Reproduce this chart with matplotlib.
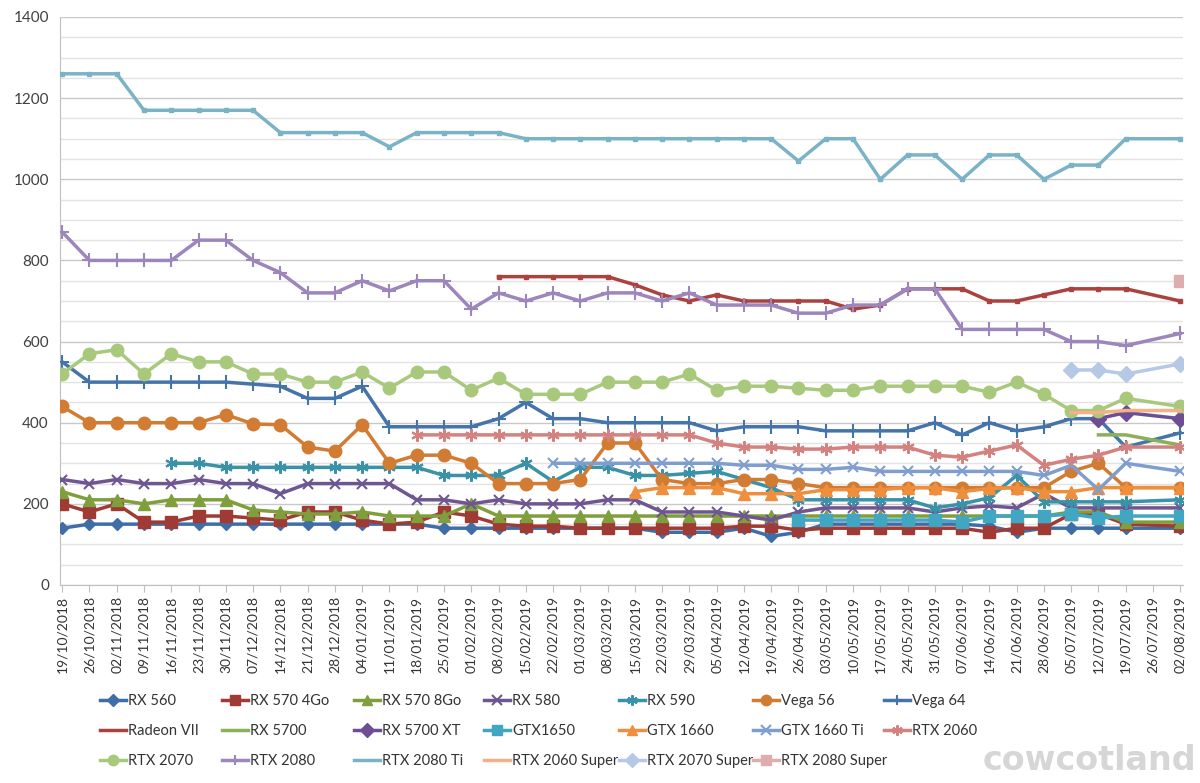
import numpy as np
import matplotlib
matplotlib.use("Agg")
import matplotlib.pyplot as plt
from matplotlib.lines import Line2D
from matplotlib import font_manager

N = None
dates = ["19/10/2018","26/10/2018","02/11/2018","09/11/2018","16/11/2018","23/11/2018","30/11/2018",
         "07/12/2018","14/12/2018","21/12/2018","28/12/2018","04/01/2019","11/01/2019","18/01/2019",
         "25/01/2019","01/02/2019","08/02/2019","15/02/2019","22/02/2019","01/03/2019","08/03/2019",
         "15/03/2019","22/03/2019","29/03/2019","05/04/2019","12/04/2019","19/04/2019","26/04/2019",
         "03/05/2019","10/05/2019","17/05/2019","24/05/2019","31/05/2019","07/06/2019","14/06/2019",
         "21/06/2019","28/06/2019","05/07/2019","12/07/2019","19/07/2019","26/07/2019","02/08/2019"]

def pad(start, vals):
    out = [N] * start + list(vals)
    return out + [N] * (42 - len(out))

rx560 = [140,150,150,150,150,150,150,150,150,150,
         150,150,150,150,140,140,140,140,140,140,
         140,140,130,130,130,140,120,130,150,150,
         150,150,150,150,145,130,140,140,140,140,
         N,140]
rx570_4 = [200,180,200,155,155,170,170,165,160,180,
           180,160,150,155,180,170,150,145,145,140,
           140,140,140,140,140,145,145,135,140,140,
           140,140,140,140,130,140,140,175,175,150,
           N,145]
rx570_8 = [230,210,210,200,210,210,210,185,180,175,
           175,180,170,170,170,200,170,170,170,170,
           170,170,170,170,170,170,170,170,170,170,
           170,170,170,170,170,170,170,180,180,155,
           N,155]
rx580 = [260,250,260,250,250,260,250,250,225,250,
         250,250,250,210,210,200,210,200,200,200,
         210,210,180,180,180,170,160,180,190,190,
         190,190,180,190,195,190,225,190,190,190,
         N,190]
rx590 = pad(4, [300,300,290,290,290,290,290,290,290,290,
                270,270,270,300,255,290,290,270,270,275,
                280,260,240,210,210,210,210,210,190,200,
                215,270,205,205,205,205,N,210])
vega56 = [440,400,400,400,400,400,420,397,395,340,
          330,395,300,320,320,300,250,250,250,260,
          350,350,260,250,250,260,260,250,240,240,
          240,240,240,240,240,240,240,280,300,240,
          N,240]
vega64 = [550,500,500,500,500,500,500,495,490,460,
          460,490,390,390,390,390,410,450,410,410,
          400,400,400,400,380,390,390,390,380,380,
          380,380,400,370,400,380,390,410,410,340,
          N,375]
radeon7 = pad(16, [760,760,760,760,760,740,715,700,715,700,
                   700,700,700,680,690,730,730,730,700,700,
                   715,730,730,730,N,700])
rx5700 = pad(38, [370,370,N,345])
rx5700xt = pad(38, [410,425,N,410])
gtx1650 = pad(27, [160,160,160,160,160,160,155,170,170,170,
                   175,165,170,N,170])
gtx1660 = pad(21, [230,240,240,240,225,225,225,235,235,235,
                   240,240,230,238,240,230,230,240,240,N,240])
gtx1660ti = pad(18, [300,300,300,300,300,300,300,295,295,285,
                     285,290,280,280,280,280,280,280,270,295,
                     235,300,N,280])
rtx2060 = pad(13, [370,370,370,370,370,370,370,370,370,370,
                   370,350,340,340,335,335,340,340,340,320,
                   315,330,345,295,310,320,340,N,340])
rtx2070 = [520,570,580,520,570,550,550,520,520,500,
           500,525,485,525,525,480,510,470,470,470,
           500,500,500,520,480,490,490,485,480,480,
           490,490,490,490,475,500,470,430,430,460,
           N,440]
rtx2080 = [870,800,800,800,800,850,850,800,770,720,
           720,750,725,750,750,680,720,700,720,700,
           720,720,700,720,690,690,690,670,670,690,
           690,730,730,630,630,630,630,600,600,590,
           N,620]
rtx2080ti = [1260,1260,1260,1170,1170,1170,1170,1170,1115,1115,
             1115,1115,1080,1115,1115,1115,1115,1100,1100,1100,
             1100,1100,1100,1100,1100,1100,1100,1045,1100,1100,
             1000,1060,1060,1000,1060,1060,1000,1035,1035,1100,
             N,1100]
rtx2060s = pad(37, [425,425,430,N,430])
rtx2070s = pad(37, [530,530,520,N,545])
rtx2080s = pad(41, [750])

ast = (6, 2, 0)
series = [
    ("RX 560", rx560, "#3F6EA7", "D", 6.5),
    ("RX 570 4Go", rx570_4, "#A03A35", "s", 8),
    ("RX 570 8Go", rx570_8, "#7F9E3C", "^", 8.5),
    ("RX 580", rx580, "#6E5690", "x", 7.5),
    ("RX 590", rx590, "#3A92A8", ast, 9),
    ("Vega 56", vega56, "#D27B32", "o", 9),
    ("Vega 64", vega64, "#4474AA", "+", 10),
    ("Radeon VII", radeon7, "#AA4340", "s", 3),
    ("RX 5700", rx5700, "#8DAF55", None, 0),
    ("RX 5700 XT", rx5700xt, "#6B4E93", "D", 8),
    ("GTX1650", gtx1650, "#40A6C2", "s", 8.5),
    ("GTX 1660", gtx1660, "#EF8F3E", "^", 8.5),
    ("GTX 1660 Ti", gtx1660ti, "#7F9ECF", "x", 7.5),
    ("RTX 2060", rtx2060, "#D3827F", ast, 9),
    ("RTX 2070", rtx2070, "#A8C97C", "o", 9),
    ("RTX 2080", rtx2080, "#9C86BC", "+", 10),
    ("RTX 2080 Ti", rtx2080ti, "#7BB3C6", "s", 2.5),
    ("RTX 2060 Super", rtx2060s, "#F6B088", None, 0),
    ("RTX 2070 Super", rtx2070s, "#B5C8E6", "D", 8.5),
    ("RTX 2080 Super", rtx2080s, "#DDAEAE", "s", 9),
]

plt.rcParams['font.family'] = ['Lato', 'DejaVu Sans']
fig = plt.figure(figsize=(12, 7.83), dpi=100)
ax = fig.add_axes([60/1200, 1-585/783, (1183-60)/1200, (585-17)/783])

x = np.arange(len(dates))
handles = []
for i, (name, vals, col, mk, ms) in enumerate(series):
    y = np.array([np.nan if v is None else v for v in vals], dtype=float)
    m = ~np.isnan(y)
    kw = dict(color=col, lw=2.5, zorder=3 + i * 0.1, solid_joinstyle='round')
    if mk is not None:
        kw.update(marker=mk, markersize=ms, markerfacecolor=col, markeredgecolor=col,
                  markeredgewidth=1.5 if mk in ("x", "+", ast) else 1.0)
    ax.plot(x[m], y[m], **kw)
    h = Line2D([], [], **kw)
    if mk is not None:
        h.set_markersize(min(ms, 7.5) if ms > 3 else 0)
    handles.append((h, name))

ax.set_xlim(-0.08, 41.1)
ax.set_ylim(0, 1400)
ax.set_yticks(range(0, 1401, 200))
ax.set_yticks(range(0, 1401, 50), minor=True)
ax.yaxis.grid(True, which='major', color='#c8c8c8', lw=1.0)
ax.yaxis.grid(True, which='minor', color='#e3e3e3', lw=1.0)
ax.set_axisbelow(True)
ax.tick_params(axis='y', which='both', length=0, labelsize=11, pad=8, colors='#404040')
ax.set_xticks(x)
ax.set_xticklabels(dates, rotation=90, fontsize=10, color='#333333')
ax.tick_params(axis='x', length=5, color='#bfbfbf', pad=3)
for s in ['top', 'right']:
    ax.spines[s].set_visible(False)
ax.spines['left'].set_color('#bfbfbf')
ax.spines['bottom'].set_color('#bfbfbf')

# watermark (site logo), kept in the free corner right of the legend
names = {f.name for f in font_manager.fontManager.ttflist}
wm_font = 'Liberation Sans Narrow' if 'Liberation Sans Narrow' in names else 'DejaVu Sans'
fig.text(0.997, 0.008, "cowcotland", ha='right', va='bottom', fontsize=24, fontweight='bold',
         family=[wm_font, 'DejaVu Sans'], color='#d6d6d6', zorder=0)

col_x = [100, 222, 354, 484, 619, 753, 884]
for c in range(7):
    idxs = [r * 7 + c for r in range(3) if r * 7 + c < len(handles)]
    hs = [handles[k][0] for k in idxs]
    ls = [handles[k][1] for k in idxs]
    fig.legend(hs, ls, loc='upper left', bbox_to_anchor=(col_x[c] / 1200, 1 - 694 / 783),
               frameon=False, fontsize=10.5, handlelength=1.8, handletextpad=0.15,
               labelspacing=1.1, borderpad=0, borderaxespad=0, labelcolor='#333333')

fig.savefig("out.png", dpi=100)
